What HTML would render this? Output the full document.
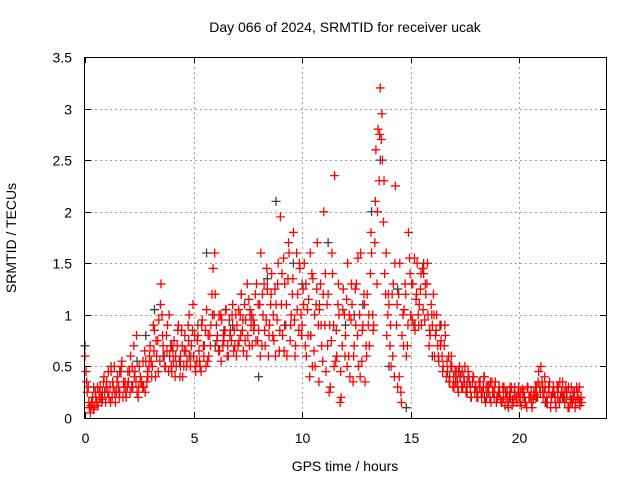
<!DOCTYPE html>
<html><head><meta charset="utf-8"><style>
html,body{margin:0;padding:0;background:#fff}
svg{display:block;font-family:"Liberation Sans",sans-serif}
</style></head><body>
<svg id="chart" width="640" height="480" viewBox="0 0 640 480">
<rect width="640" height="480" fill="#fff"/>
<g id="grid"></g>
<g id="marks"></g>
<rect x="84.5" y="57.5" width="522" height="361" fill="none" stroke="#000" stroke-width="1"/>
<g id="ticks"></g>
<text x="345" y="32" font-size="14" text-anchor="middle">Day 066 of 2024, SRMTID for receiver ucak</text>
<text x="345" y="471" font-size="14" text-anchor="middle">GPS time / hours</text>
<text x="16" y="238" font-size="14" text-anchor="middle" transform="rotate(-90 16 238)">SRMTID / TECUs</text>
</svg>
<script>
const xTicks=[0,5,10,15,20];
const yTicks=[0,0.5,1,1.5,2,2.5,3,3.5];
const yTickLabels=["0","0.5","1","1.5","2","2.5","3","3.5"];
const redAStart=0.0, redBStart=0.05, redCStart=0.075, redStep=0.1;
const redA=[0.6,0.25,0.1,0.15,0.08,0.2,0.12,0.3,0.18,0.25,
0.35,0.2,0.45,0.3,0.15,0.4,0.25,0.55,0.3,0.2,
0.35,0.6,0.3,0.45,0.25,0.5,0.35,0.3,0.55,0.4,
0.7,0.5,0.85,0.6,0.95,1.3,0.7,0.5,0.9,0.6,
0.45,0.75,0.5,0.9,0.6,0.4,0.8,0.55,1.0,0.7,
0.6,0.45,0.8,0.5,0.95,0.7,1.05,0.6,0.9,1.45,
1.2,0.8,0.65,0.95,0.75,1.05,0.6,0.85,1.1,0.7,
0.9,0.75,1.2,0.65,0.95,0.8,1.05,0.7,0.9,1.3,
0.85,1.6,1.0,0.7,1.25,0.9,1.4,0.75,1.1,1.5,
1.95,0.8,1.3,0.6,1.6,1.0,1.8,0.7,1.2,1.45,
0.9,1.5,0.6,1.15,0.8,1.35,0.5,1.7,1.05,0.7,
2.0,0.45,1.2,0.3,1.4,2.35,0.6,1.0,0.2,1.25,
0.8,1.5,0.4,1.1,0.7,1.3,0.5,1.6,0.9,0.35,
1.2,0.7,1.6,0.9,2.6,2.8,3.2,2.5,1.4,0.8,
1.1,0.5,1.3,2.25,0.3,1.5,0.8,1.05,0.6,1.8,
1.0,1.3,0.85,1.5,1.1,0.9,1.4,1.2,1.0,0.8,
0.9,0.6,1.0,0.55,0.75,0.5,0.8,0.45,0.35,0.5,
0.3,0.45,0.25,0.4,0.3,0.5,0.25,0.35,0.2,0.4,
0.3,0.2,0.35,0.25,0.4,0.2,0.3,0.15,0.25,0.35,
0.2,0.25,0.15,0.3,0.2,0.1,0.25,0.18,0.3,0.15,
0.2,0.12,0.25,0.15,0.3,0.2,0.1,0.22,0.3,0.45,
0.5,0.2,0.3,0.15,0.35,0.2,0.25,0.1,0.3,0.2,
0.35,0.15,0.25,0.1,0.3,0.2,0.15,0.25,0.12];
const redB=[0.45,0.3,0.05,0.2,0.12,0.15,0.25,0.2,0.35,0.15,
0.25,0.3,0.2,0.5,0.25,0.3,0.45,0.2,0.35,0.3,
0.45,0.3,0.7,0.35,0.2,0.4,0.3,0.65,0.35,0.5,
0.55,0.9,0.4,0.75,0.55,1.0,0.6,0.8,0.45,0.7,
0.65,0.4,0.7,0.55,0.85,0.5,0.65,0.9,0.5,0.85,
0.8,0.55,0.65,0.45,0.7,0.85,0.55,0.8,1.2,1.0,
0.9,0.65,1.0,0.7,0.85,0.6,0.95,0.75,0.65,1.0,
0.7,1.0,0.85,1.1,0.6,1.15,0.9,0.95,1.2,0.75,
1.1,0.7,1.3,0.95,0.6,1.1,0.8,1.25,0.95,0.65,
1.1,1.55,0.9,1.35,0.75,1.2,0.95,1.6,0.85,1.0,
1.25,0.7,1.05,0.4,1.4,0.65,1.1,0.9,1.3,0.55,
0.9,1.1,0.25,0.75,0.9,0.55,1.1,0.15,0.7,1.0,
1.15,0.6,0.95,0.35,1.25,0.8,1.0,0.55,1.2,0.7,
0.9,1.4,1.0,1.7,1.3,2.3,2.7,1.9,1.2,1.0,
0.7,1.2,0.4,0.9,1.2,0.25,1.0,1.3,0.7,1.55,
1.3,0.9,1.15,1.0,1.25,1.45,0.95,1.3,0.7,1.1,
1.2,0.8,0.7,0.9,0.6,0.7,0.4,0.6,0.5,0.3,
0.45,0.35,0.5,0.3,0.4,0.25,0.45,0.3,0.35,0.25,
0.2,0.35,0.25,0.3,0.15,0.3,0.2,0.35,0.2,0.15,
0.25,0.18,0.3,0.12,0.25,0.2,0.3,0.15,0.2,0.25,
0.15,0.28,0.2,0.1,0.2,0.25,0.18,0.3,0.2,0.3,
0.35,0.25,0.15,0.3,0.1,0.25,0.2,0.3,0.15,0.25,
0.2,0.3,0.1,0.2,0.15,0.25,0.3,0.18,0.2];
const redC=[0.35,0.15,0.12,0.1,0.25,0.3,0.2,0.15,0.4,0.3,
0.45,0.15,0.35,0.25,0.35,0.2,0.5,0.35,0.25,0.45,
0.25,0.5,0.4,0.8,0.3,0.35,0.55,0.25,0.45,0.6,
0.4,0.65,0.75,0.45,1.1,0.8,0.5,0.65,1.0,0.5,
0.55,0.6,0.85,0.4,0.7,0.65,0.5,0.75,0.6,1.1,
0.5,0.75,0.55,0.9,0.6,0.5,0.8,0.7,1.0,1.6,
0.75,1.0,0.55,0.8,1.05,0.7,0.8,1.0,0.85,0.6,
1.05,0.8,0.95,0.75,1.3,0.7,1.0,0.85,0.75,1.1,
0.6,1.2,0.85,1.45,0.8,1.2,1.0,0.6,1.3,0.85,
1.4,0.65,1.1,1.7,0.9,1.35,0.6,1.05,1.5,0.8,
1.1,1.3,0.8,1.6,0.5,1.0,1.25,0.35,0.9,1.2,
1.4,0.7,0.9,1.6,0.5,0.85,1.3,0.45,1.05,0.6,
0.5,1.0,1.3,0.6,0.9,1.55,0.4,0.85,1.1,0.6,
1.0,1.8,0.85,2.1,2.0,2.75,2.95,2.3,1.6,1.2,
0.9,0.6,1.5,1.1,0.4,0.15,0.7,1.2,0.9,1.4,
0.95,1.55,1.2,0.9,1.4,1.05,1.3,1.5,0.85,1.0,
1.0,0.85,0.6,0.7,0.45,0.9,0.55,0.35,0.6,0.4,
0.35,0.3,0.4,0.45,0.35,0.3,0.4,0.2,0.4,0.3,
0.25,0.3,0.2,0.4,0.3,0.25,0.35,0.25,0.3,0.2,
0.3,0.15,0.2,0.25,0.15,0.3,0.12,0.25,0.2,0.3,
0.25,0.2,0.15,0.3,0.2,0.15,0.25,0.2,0.35,0.25,
0.3,0.4,0.2,0.25,0.2,0.3,0.15,0.2,0.35,0.25,
0.25,0.2,0.3,0.15,0.25,0.1,0.2,0.3,0.15];
const darkStart=0.0, darkStep=0.4;
const dark=[0.7,0.3,0.25,0.5,0.45,0.35,0.55,0.8,1.05,0.6,0.7,0.5,0.6,0.9,1.6,0.7,0.85,0.9,1.2,1.0,0.4,1.35,2.1,0.9,1.5,1.3,0.8,1.1,1.7,0.6,0.9,1.0,1.1,2.0,2.5,0.5,1.25,0.1,0.9,1.5,0.6,0.9,0.4,0.45,0.35,0.3,0.2,0.25,0.15,0.2,0.2,0.3,0.2,0.15,0.25,0.2,0.18,0.15];

const X0=85,X1=606,Y0=418,Y1=57,XMAX=24,YMAX=3.5;
const sx=v=>X0+(X1-X0)*v/XMAX;
const sy=v=>Y0-(Y0-Y1)*v/YMAX;
const NS="http://www.w3.org/2000/svg";
const grid=document.getElementById('grid'),ticks=document.getElementById('ticks'),marks=document.getElementById('marks');
function mk(tag,attrs,parent){const e=document.createElementNS(NS,tag);for(const k in attrs)e.setAttribute(k,attrs[k]);parent.appendChild(e);return e;}
xTicks.forEach(t=>{
  const x=Math.round(sx(t))+0.5;
  if(t>0){const g=mk('line',{x1:x,x2:x,y1:Y1,y2:Y0,stroke:'#a0a0a0','stroke-dasharray':'2,3'},grid);
  
  }
  const tk=mk('path',{d:`M${x} ${Y0}v-6M${x} ${Y1}v6`,stroke:'#000'},ticks);
  
  
  const tx=mk('text',{x:x,y:443,'font-size':14,'text-anchor':'middle'},ticks);tx.textContent=t;
  
  
});
yTicks.forEach((t,i)=>{
  const y=Math.round(sy(t))+0.5;
  if(t>0&&t<YMAX){const g=mk('line',{x1:X0,x2:X1,y1:y,y2:y,stroke:'#a0a0a0','stroke-dasharray':'2,3'},grid);
  
  }
  const tk=mk('path',{d:`M${X0} ${y}h6M${X1} ${y}h-6`,stroke:'#000'},ticks);
  
  
  const tx=mk('text',{x:72,y:y+5,'font-size':14,'text-anchor':'end'},ticks);tx.textContent=yTickLabels[i];
  
  
});
function series(vals,start,step,color,name){
  let d='';
  vals.forEach((v,i)=>{const x=sx(start+i*step),y=sy(v);d+=`M${x-4.5} ${y}h9M${x} ${y-4.5}v9`;});
  const p=mk('path',{d:d,stroke:color,'stroke-width':1.3,fill:'none'},marks);
  
  
}
series(dark,darkStart,darkStep,'#404040','dark-series-points');
series(redA,redAStart,redStep,'#ff0000','red-series-points-a');
series(redB,redBStart,redStep,'#ff0000','red-series-points-b');
series(redC,redCStart,redStep,'#ff0000','red-series-points-c');
</script>
</body></html>
